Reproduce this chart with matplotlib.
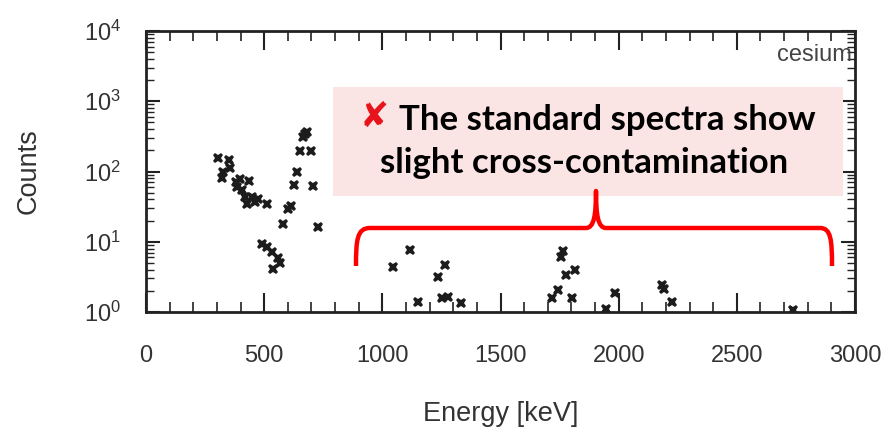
import matplotlib
matplotlib.use("Agg")
import matplotlib.pyplot as plt
from matplotlib.path import Path
from matplotlib.patches import PathPatch, Rectangle
from matplotlib.ticker import MultipleLocator, LogLocator, NullFormatter

# Measured gamma spectrum (cesium standard)
energy_kev = [305, 351, 355, 326, 322, 381, 436, 398, 406, 419, 449, 474, 512, 427, 461, 385,
              614, 601, 580, 626, 639, 652, 698, 673, 664, 681, 707, 728,
              491, 512, 533, 559, 567, 537,
              1117, 1045, 1265, 1236, 1151, 1253, 1278, 1333,
              1765, 1756, 1815, 1777, 1744, 1718, 1803, 1947, 1985,
              2184, 2192, 2226, 2738]
counts = [158, 144, 114, 97, 80, 72, 74, 79, 55, 43, 43, 41, 35, 35, 37, 61,
          32, 29, 18, 65, 100, 193, 193, 338, 306, 361, 63, 16,
          9.4, 8.5, 7.2, 5.9, 5.0, 4.1,
          7.7, 4.3, 4.7, 3.1, 1.39, 1.58, 1.64, 1.35,
          7.4, 6.1, 4.0, 3.4, 2.06, 1.58, 1.58, 1.10, 1.87,
          2.43, 2.13, 1.39, 1.07]

x_major_ticks = [0, 500, 1000, 1500, 2000, 2500, 3000]
source_label = "cesium"
note_lines = ["The standard spectra show", "slight cross-contamination"]

W, H = 896, 434
plt.rcParams["font.family"] = ["Liberation Sans", "DejaVu Sans"]
plt.rcParams["mathtext.default"] = "regular"

fig = plt.figure(figsize=(W / 100, H / 100), dpi=100)
ax = fig.add_axes([146 / W, 1 - 312 / H, (855 - 146) / W, (312 - 31) / H])

ax.plot(energy_kev, counts, linestyle="none", marker="X", markersize=7.5,
        color="#1c1c1c", markeredgewidth=0)

ax.set_yscale("log")
ax.set_xlim(0, 3000)
ax.set_ylim(1, 1e4)
ax.set_xticks(x_major_ticks)
ax.xaxis.set_minor_locator(MultipleLocator(100))
ax.yaxis.set_minor_locator(LogLocator(base=10, subs=range(2, 10), numticks=20))
ax.yaxis.set_minor_formatter(NullFormatter())

text_color = "#333333"
ax.tick_params(which="both", direction="in", top=True, right=True,
               color="#222222", labelcolor=text_color, labelsize=17)
ax.tick_params(axis="x", which="major", length=14, width=1.5, pad=24)
ax.tick_params(axis="x", which="minor", length=7, width=1.2)
ax.tick_params(axis="y", which="major", length=10, width=1.5, pad=18)
ax.tick_params(axis="y", which="minor", length=6, width=1.0)
for sp in ax.spines.values():
    sp.set_linewidth(2)
    sp.set_color("#222222")

ax.set_xlabel("Energy [keV]", fontsize=19.5, color=text_color, labelpad=24)
ax.set_ylabel("Counts", fontsize=19.5, color=text_color)
ax.yaxis.set_label_coords(-0.147, 0.5)

ax.text(0.995, 0.955, source_label, transform=ax.transAxes, ha="right", va="top",
        fontsize=17, color="#444444")


def px(x, y):
    """Figure pixel position (origin top-left) to figure fraction."""
    return x / W, 1 - y / H


# Highlight box with the note
bx0, by0 = px(333, 196)
bx1, by1 = px(843, 87)
fig.add_artist(Rectangle((bx0, by0), bx1 - bx0, by1 - by0, transform=fig.transFigure,
                         facecolor="#fbe4e4", edgecolor="none", zorder=3))
fig.text(*px(374, 117), "\u2718", ha="center", va="center", fontsize=25,
         color="#e8141c", family="DejaVu Sans", zorder=4)
fig.text(*px(399, 120), note_lines[0], ha="left", va="center", fontsize=25,
         fontweight="bold", family="Lato", color="black", zorder=4)
fig.text(*px(584, 163), note_lines[1], ha="center", va="center", fontsize=25,
         fontweight="bold", family="Lato", color="black", zorder=4)

# Curly brace spanning the higher-energy region
verts = [px(356, 266),
         px(356, 240), px(357, 228), px(370, 228),
         px(586, 228),
         px(594, 228), px(596, 215), px(596, 191),
         px(596, 215), px(598, 228), px(606, 228),
         px(820, 228),
         px(831, 228), px(832, 240), px(832, 266)]
codes = [Path.MOVETO,
         Path.CURVE4, Path.CURVE4, Path.CURVE4,
         Path.LINETO,
         Path.CURVE4, Path.CURVE4, Path.CURVE4,
         Path.CURVE4, Path.CURVE4, Path.CURVE4,
         Path.LINETO,
         Path.CURVE4, Path.CURVE4, Path.CURVE4]
fig.add_artist(PathPatch(Path(verts, codes), transform=fig.transFigure, facecolor="none",
                         edgecolor="#ff0000", linewidth=3.2, capstyle="butt",
                         joinstyle="round", zorder=4))

fig.savefig("out.png", dpi=100)
